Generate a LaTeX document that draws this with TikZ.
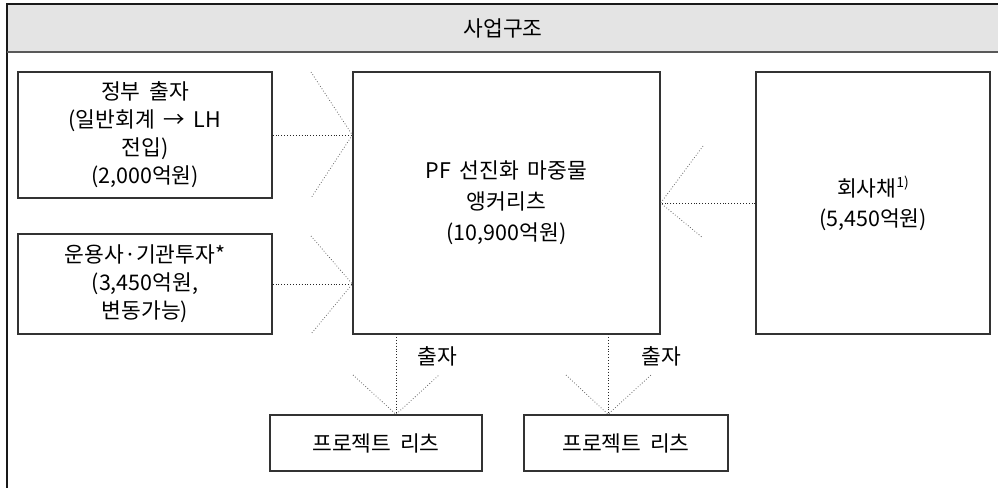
\documentclass[tikz,border=0pt]{standalone}
\usepackage{fontspec}
\setmainfont{Noto Sans CJK KR}[WordSpace={1.8,0,0}]
\definecolor{hdr}{HTML}{E4E4E4}
\definecolor{frm}{HTML}{333333}
\begin{document}
\begin{tikzpicture}[x=1pt,y=-1pt,
  txt/.style={font=\fontsize{21.5}{28}\selectfont, text=black},
  box/.style={draw=frm, line width=1.3pt, align=center, inner sep=0pt, txt},
  flow/.style={draw=black!85, dotted, line width=0.9pt},
  head/.style={draw=black!60, dotted, line width=0.8pt}]
\useasboundingbox (0,0) rectangle (998,488);
% frame and header
\fill[hdr] (7,4) rectangle (998,52);
\draw[black!90, line width=1.3pt] (998,4) -- (7,4) -- (7,488);
\draw[black!65, line width=1.3pt] (7,52) -- (998,52);
\node[txt, anchor=center] (title) at (503,28) {사업구조};
% boxes
\node[box, minimum width=254pt, minimum height=126pt] (b1) at (145,135)
  {정부 출자\\(일반회계 → LH\\전입)\\(2,000억원)};
\node[box, minimum width=254pt, minimum height=100pt] (b2) at (145,284)
  {운용사·기관투자*\\(3,450억원,\\변동가능)};
\node[box, minimum width=307pt, minimum height=262pt, font=\fontsize{21.5}{31}\selectfont] (c) at (506.5,203)
  {PF 선진화 마중물\\앵커리츠\\(10,900억원)};
\node[box, minimum width=234pt, minimum height=262pt, font=\fontsize{21.5}{30}\selectfont] (r) at (873,203)
  {회사채\raisebox{0.42em}{\fontsize{14}{14}\selectfont 1)}\\(5,450억원)};
\node[box, minimum width=212pt, minimum height=56pt] (p1) at (376,443) {프로젝트 리츠};
\node[box, minimum width=204pt, minimum height=56pt] (p2) at (626,443) {프로젝트 리츠};
% connector coordinates
\coordinate (t1) at (b1.east -| c.west);
\coordinate (t2) at (b2.east -| c.west);
\coordinate (t3) at (r.west -| c.east);
\coordinate (s4) at (396,334);
\coordinate (t4) at (s4 |- p1.north);
\coordinate (s5) at (608,334);
\coordinate (t5) at (s5 |- p2.north);
% main flows
\draw[flow] (b1.east) -- (t1);
\draw[flow] (b2.east) -- (t2);
\draw[flow] (r.west) -- (t3);
\draw[flow] (s4) -- (t4);
\draw[flow] (s5) -- (t5);
% open arrow heads
\coordinate (h1a) at (311,72);  \coordinate (h1b) at (311,198);
\coordinate (h2a) at (311,236); \coordinate (h2b) at (311,334);
\coordinate (h3a) at (703,146); \coordinate (h3b) at (703,238);
\coordinate (h4a) at (353,375); \coordinate (h4b) at (439,375);
\coordinate (h5a) at (566,375); \coordinate (h5b) at (651,375);
\draw[head] (h1a) -- (t1) -- (h1b);
\draw[head] (h2a) -- (t2) -- (h2b);
\draw[head] (h3a) -- (t3) -- (h3b);
\draw[head] (h4a) -- (t4) -- (h4b);
\draw[head] (h5a) -- (t5) -- (h5b);
% labels
\node[txt] (l4) at (437,356) {출자};
\node[txt] (l5) at (661,356) {출자};
\end{tikzpicture}
\end{document}
